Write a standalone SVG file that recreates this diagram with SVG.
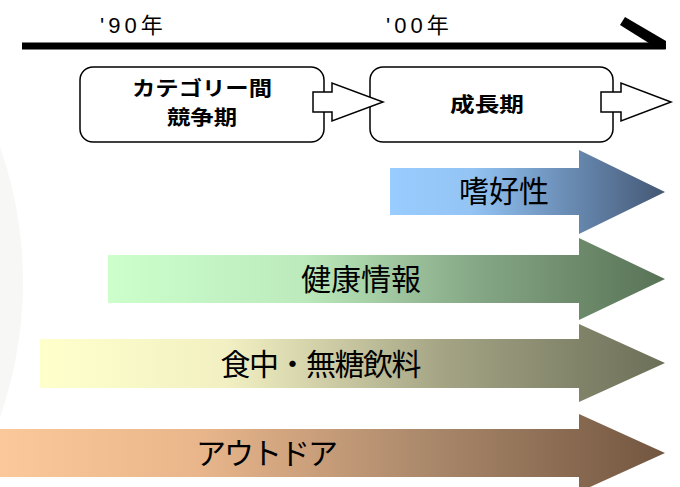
<svg xmlns="http://www.w3.org/2000/svg" width="680" height="487" viewBox="0 0 680 487">
<defs>
<style>
.yr{font-family:"Liberation Sans","Noto Sans CJK JP",sans-serif;font-size:22px;letter-spacing:4px;fill:#000}
.box{fill:#fff;stroke:#000;stroke-width:1.5}
.bt{font-family:"Noto Sans CJK JP","Liberation Sans",sans-serif;font-size:20px;font-weight:bold;fill:#000;text-anchor:middle}
.blk{fill:#fff;stroke:#000;stroke-width:1.5;stroke-linejoin:miter}
.lab{font-family:"Noto Sans CJK JP","Liberation Sans",sans-serif;font-size:30px;fill:#000;text-anchor:middle}
</style>
<linearGradient id="gBlue" x1="0" y1="0" x2="1" y2="0">
<stop offset="0" stop-color="#99CCFF"/><stop offset="0.3" stop-color="#93C4F4"/><stop offset="0.6" stop-color="#6F93BC"/><stop offset="1" stop-color="#445875"/>
</linearGradient>
<linearGradient id="gGreen" x1="0" y1="0" x2="1" y2="0">
<stop offset="0" stop-color="#CCFFCC"/><stop offset="0.35" stop-color="#BCEABC"/><stop offset="0.65" stop-color="#87A987"/><stop offset="1" stop-color="#587255"/>
</linearGradient>
<linearGradient id="gOlive" x1="0" y1="0" x2="1" y2="0">
<stop offset="0" stop-color="#FFFFCC"/><stop offset="0.3" stop-color="#F2F0C2"/><stop offset="0.65" stop-color="#A3A384"/><stop offset="1" stop-color="#6C6F58"/>
</linearGradient>
<linearGradient id="gPeach" x1="0" y1="0" x2="1" y2="0">
<stop offset="0" stop-color="#FAC89A"/><stop offset="0.3" stop-color="#E9B68B"/><stop offset="0.65" stop-color="#A9876A"/><stop offset="1" stop-color="#735640"/>
</linearGradient>
</defs>
<rect width="680" height="487" fill="#fff"/>
<circle cx="-385" cy="282" r="408" fill="#F7F7F5"/>

<g id="timeline">
<rect x="22" y="42.5" width="643" height="7" fill="#000"/>
<polygon points="620,25 625,17 666,41 666,49.5 648,42.5" fill="#000"/>
<text class="yr" x="100" y="33">'90年</text>
<text class="yr" x="386" y="33">'00年</text>
</g>

<g id="box-category">
<rect class="box" x="80" y="67" width="244" height="75" rx="13"/>
<text class="bt" x="202" y="96" textLength="140" lengthAdjust="spacingAndGlyphs">カテゴリー間</text>
<text class="bt" x="202" y="125" textLength="70" lengthAdjust="spacingAndGlyphs">競争期</text>
</g>

<g id="box-growth">
<rect class="box" x="370" y="67" width="243" height="75" rx="13"/>
<text class="bt" x="487" y="112" textLength="74" lengthAdjust="spacingAndGlyphs">成長期</text>
</g>

<g id="connectors">
<polygon class="blk" points="313,92 332,92 332,83 383,102 332,121 332,112 313,112"/>
<polygon class="blk" points="601,92 621,92 621,83 671,102 621,121 621,112 601,112"/>
</g>

<g id="arrow-shikou">
<polygon fill="url(#gBlue)" points="390,168 579,168 579,150 665,192 579,234 579,215 390,215"/>
<text class="lab" x="504" y="202">嗜好性</text>
</g>

<g id="arrow-kenkou">
<polygon fill="url(#gGreen)" points="108,255 579,255 579,238 665,279 579,320 579,303 108,303"/>
<text class="lab" x="361" y="290">健康情報</text>
</g>

<g id="arrow-muto">
<polygon fill="url(#gOlive)" points="40,339 579,339 579,324 665,363 579,402 579,388 40,388"/>
<text class="lab" x="321" y="375" textLength="201" lengthAdjust="spacing">食中・無糖飲料</text>
</g>

<g id="arrow-outdoor">
<polygon fill="url(#gPeach)" points="0,429 579,429 579,414 665,453 579,492 579,477 0,477"/>
<text class="lab" x="267" y="464" textLength="142" lengthAdjust="spacing">アウトドア</text>
</g>
</svg>
